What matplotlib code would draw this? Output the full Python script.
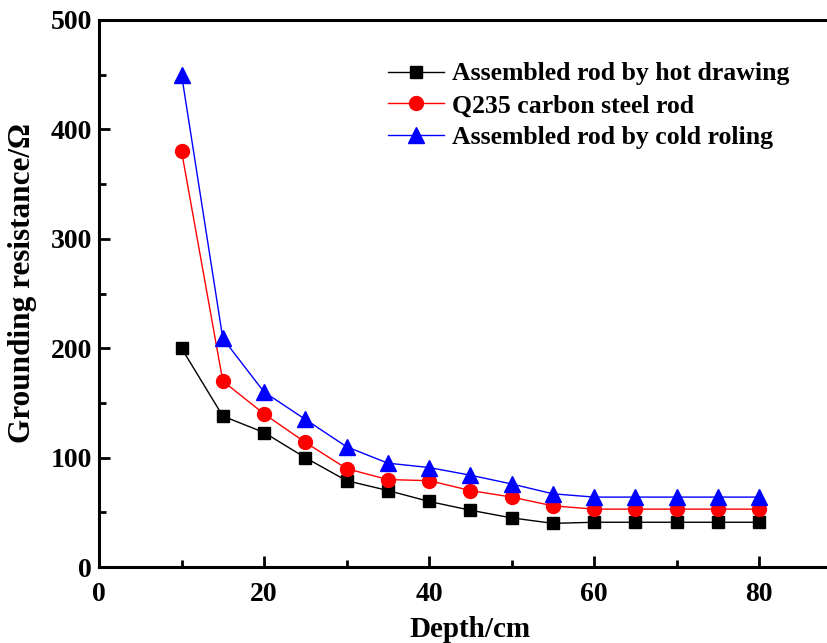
import matplotlib
matplotlib.use("Agg")
import matplotlib.pyplot as plt
from matplotlib.ticker import MultipleLocator

depth = [10, 15, 20, 25, 30, 35, 40, 45, 50, 55, 60, 65, 70, 75, 80]
hot_drawing = [200, 138, 123, 100, 79, 70, 60, 52, 45, 40, 41, 41, 41, 41, 41]
q235 = [380, 170, 140, 114, 90, 80, 79, 70, 64, 56, 53, 53, 53, 53, 53]
cold_rolling = [450, 209, 160, 135, 110, 95, 91, 84, 76, 67, 64, 64, 64, 64, 64]

labels = ["Assembled rod by hot drawing", "Q235 carbon steel rod",
          "Assembled rod by cold roling"]

plt.rcParams['font.family'] = ['Liberation Serif', 'DejaVu Serif']
plt.rcParams['font.weight'] = 'bold'
plt.rcParams['mathtext.default'] = 'regular'

fig = plt.figure(figsize=(8.28, 6.43), dpi=100)
ax = fig.add_axes([0.1196, 0.118, 0.897, 0.851])

ax.plot(depth, hot_drawing, color='black', lw=1, marker='s', ms=9, label=labels[0])
ax.plot(depth, q235, color='red', lw=1, marker='o', ms=10, label=labels[1])
ax.plot(depth, cold_rolling, color='blue', lw=1, marker='^', ms=11, label=labels[2])

ax.set_xlim(0, 90)
ax.set_ylim(0, 500)
ax.xaxis.set_major_locator(MultipleLocator(20))
ax.xaxis.set_minor_locator(MultipleLocator(10))
ax.yaxis.set_major_locator(MultipleLocator(100))
ax.yaxis.set_minor_locator(MultipleLocator(50))
ax.tick_params(which='major', direction='in', length=8, width=2, labelsize=20)
ax.tick_params(which='minor', direction='in', length=5, width=2)
ax.tick_params(axis='x', which='major', pad=11)
ax.tick_params(axis='y', which='major', pad=5)
ax.tick_params(top=False, right=False, which='both')
for side in ['left', 'bottom', 'top']:
    ax.spines[side].set_linewidth(2.2)
ax.spines['right'].set_visible(False)

for lab in ax.get_xticklabels() + ax.get_yticklabels():
    lab.set_fontweight('bold')

ax.set_xlabel('Depth/cm', fontsize=21, fontweight='bold', labelpad=6)
ax.set_ylabel('Grounding resistance/Ω', fontsize=22.5, fontweight='bold')
ax.yaxis.set_label_coords(-0.083, 0.519)

leg = ax.legend(loc='upper left', bbox_to_anchor=(0.375, 0.941), frameon=False,
                prop={'family': 'Liberation Serif', 'weight': 'bold', 'size': 18.5},
                handlelength=2.2, handletextpad=0.3, labelspacing=0.35, borderaxespad=0)

fig.savefig('out.png', dpi=100)
